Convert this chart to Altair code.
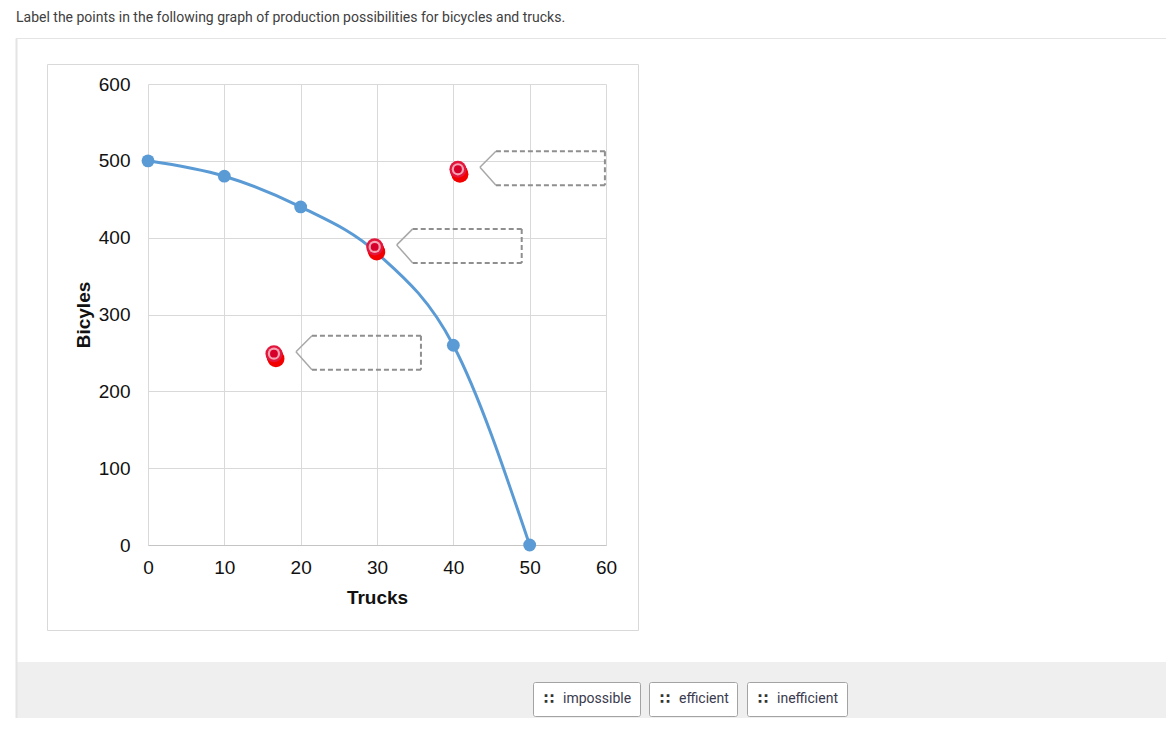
import altair as alt
import pandas as pd

# ---- data ----
trucks = [0, 10, 20, 30, 40, 50]
bicycles = [500, 480, 440, 380, 260, 0]
marker_shown = [True, True, True, False, True, True]
red_trucks = [16.5, 29.7, 40.6]
red_bicycles = [249, 388, 489]
x_ticks = [0, 10, 20, 30, 40, 50, 60]
y_ticks = [0, 100, 200, 300, 400, 500, 600]
button_labels = ["impossible", "efficient", "inefficient"]
question = "Label the points in the following graph of production possibilities for bicycles and trucks."

# ---- layout (pixels, relative to plot origin) ----
W, H = 458, 461
PAD = {"left": 140, "top": 76, "right": 560, "bottom": 173}
RIGHT = W + PAD["right"]
BOTTOM = H + PAD["bottom"]
BUTTON_BOXES = [(385, 492), (501, 589), (599, 699)]

curve_df = pd.DataFrame({"trucks": trucks, "bicycles": bicycles, "shown": marker_shown})
red_df = pd.DataFrame({"trucks": red_trucks, "bicycles": red_bicycles})
one = pd.DataFrame({"k": [0]})

AX_FONT = "Liberation Sans"
x_axis = alt.Axis(values=x_ticks, grid=True, gridColor="#d9d9d9", ticks=False,
                  domain=True, domainColor="#c4c4c4", labelPadding=13, labelFontSize=19,
                  labelFont=AX_FONT, labelColor="#111111", labelFlush=False,
                  labelOverlap=False, title="Trucks", titleFontSize=19, titleFont=AX_FONT,
                  titleFontWeight="bold", titleColor="#111111", titlePadding=11)
y_axis = alt.Axis(values=y_ticks, grid=True, gridColor="#d9d9d9", ticks=False,
                  domain=False, labelPadding=18, labelFontSize=19,
                  labelFont=AX_FONT, labelColor="#111111", labelFlush=False,
                  labelOverlap=False, title="Bicyles", titleFontSize=19, titleFont=AX_FONT,
                  titleFontWeight="bold", titleColor="#111111", titlePadding=5)
X = alt.X("trucks:Q", scale=alt.Scale(domain=[0, 60], nice=False, zero=False), axis=x_axis)
Y = alt.Y("bicycles:Q", scale=alt.Scale(domain=[0, 600], nice=False), axis=y_axis)
X2 = alt.X2("trucks")
Y2 = alt.Y2("bicycles")

layers = []

# page background pieces
layers.append(alt.Chart(one).mark_rect(color="#efefef").encode(
    x=alt.value(-131), x2=alt.value(RIGHT), y=alt.value(578), y2=alt.value(BOTTOM)))
layers.append(alt.Chart(one).mark_rule(color="#e4e4e4", strokeWidth=1).encode(
    x=alt.value(-132), x2=alt.value(RIGHT), y=alt.value(-45.5), y2=alt.value(-45.5)))
layers.append(alt.Chart(one).mark_rule(color="#e4e4e4", strokeWidth=2).encode(
    x=alt.value(-131.5), x2=alt.value(-131.5), y=alt.value(-45.5), y2=alt.value(BOTTOM)))
layers.append(alt.Chart(one).mark_rect(fillOpacity=0, stroke="#d9d9d9", strokeWidth=1).encode(
    x=alt.value(-100.5), x2=alt.value(490.5), y=alt.value(-19.5), y2=alt.value(546.5)))
layers.append(alt.Chart(one).mark_text(align="left", baseline="middle", font="Roboto",
                                       fontSize=14, color="#404040", text=question).encode(
    x=alt.value(-132), y=alt.value(-66)))

# production possibilities curve
layers.append(alt.Chart(curve_df).mark_line(color="#5b9bd5", strokeWidth=3,
                                            interpolate="monotone").encode(x=X, y=Y))
layers.append(alt.Chart(curve_df).mark_circle(size=165, color="#5b9bd5", opacity=1)
              .transform_filter("datum.shown").encode(x=X, y=Y))

# draggable red markers
for dx, dy in [(2, 5), (1, 2.5)]:
    layers.append(alt.Chart(red_df).mark_circle(size=290, color="#f20000", opacity=1,
                                                xOffset=dx, yOffset=dy).encode(x=X, y=Y))
layers.append(alt.Chart(red_df).mark_circle(size=290, color="#e3173d", opacity=1).encode(x=X, y=Y))
layers.append(alt.Chart(red_df).mark_circle(size=150, color="#f4a3b2", opacity=1).encode(x=X, y=Y))
layers.append(alt.Chart(red_df).mark_circle(size=62, color="#d6002b", opacity=1).encode(x=X, y=Y))

# dashed label drop zones
TIP = (22, -2)
L, R, T, B = 38, 147, -18, 16
for (x0, y0, x1, y1) in [(L, T, R, T), (R, T, R, B), (L, B, R, B)]:
    layers.append(alt.Chart(red_df).mark_rule(color="#8f8f8f", strokeWidth=2, strokeDash=[5, 3],
                                              xOffset=x0, yOffset=y0, x2Offset=x1, y2Offset=y1)
                  .encode(x=X, y=Y, x2=X2, y2=Y2))
for (x1, y1) in [(L, T), (L, B)]:
    layers.append(alt.Chart(red_df).mark_rule(color="#a8a8a8", strokeWidth=1.5,
                                              xOffset=TIP[0], yOffset=TIP[1],
                                              x2Offset=x1, y2Offset=y1)
                  .encode(x=X, y=Y, x2=X2, y2=Y2))

# answer buttons
for label, (bl, br) in zip(button_labels, BUTTON_BOXES):
    layers.append(alt.Chart(one).mark_rect(fill="white", stroke="#a3a3a3", strokeWidth=1,
                                           cornerRadius=2).encode(
        x=alt.value(bl + 0.5), x2=alt.value(br + 0.5), y=alt.value(598.5), y2=alt.value(632.5)))
    layers.append(alt.Chart(one).mark_text(align="center", baseline="middle", font="DejaVu Sans",
                                           fontSize=15, fontWeight="bold", color="#333333",
                                           text="\u2237").encode(
        x=alt.value(bl + 16), y=alt.value(615)))
    layers.append(alt.Chart(one).mark_text(align="left", baseline="middle", font="Roboto",
                                           fontSize=14, color="#3a3a4e", text=label).encode(
        x=alt.value(bl + 30), y=alt.value(615)))

chart = alt.layer(*layers).properties(
    width=W, height=H,
    padding=PAD,
    autosize=alt.AutoSizeParams(type="none"),
    background="white",
).configure_view(stroke="transparent")

chart.save("out.html", embed_options={"renderer": "svg", "actions": False})
